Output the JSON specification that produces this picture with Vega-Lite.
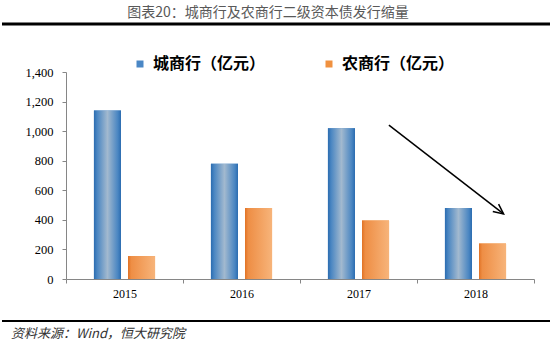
{
  "$schema": "https://vega.github.io/schema/vega-lite/v6.json",
  "padding": {"top": 5, "left": 0, "right": 0, "bottom": 0},
  "background": "white",
  "spacing": 21,
  "config": {"view": {"stroke": null}, "font": "Noto Sans CJK SC", "axis": {"labelFont": "Liberation Serif", "labelFontSize": 12, "labelColor": "#000000"}},
  "resolve": {"scale": {"color": "independent", "x": "independent", "y": "independent"}, "legend": {"color": "independent"}},
  "vconcat": [
    {
      "width": 550,
      "height": 10.5,
      "title": {"text": "图表20：城商行及农商行二级资本债发行缩量", "font": "Noto Sans CJK SC", "fontSize": 14, "fontWeight": "normal", "color": "#595959", "anchor": "middle", "offset": 3, "dx": -9},
      "data": {"values": [{"k": 1}]},
      "mark": {"type": "rule", "strokeWidth": 3, "color": "#000000"},
      "encoding": {"y": {"datum": 1, "type": "quantitative", "scale": {"domain": [0, 1]}, "axis": null}}
    },
    {
      "width": 532,
      "height": 207,
      "layer": [
        {
          "data": {"name": "bars"},
          "encoding": {
            "x": {"field": "year", "type": "nominal", "scale": {"paddingInner": 0, "paddingOuter": 0.2735, "align": 1},
                  "axis": {"title": null, "labelAngle": 0, "tickBand": "extent", "tickSize": 4, "labelPadding": 5, "labelFont": "Liberation Serif", "labelFontSize": 12, "labelColor": "#000000", "domainColor": "#868686", "domainDash": [0, 64, 10000], "tickColor": "#868686"}},
            "xOffset": {"field": "series", "type": "nominal", "scale": {"domain": ["城商行（亿元）", "农商行（亿元）"], "paddingInner": 0.206, "paddingOuter": 0.82}},
            "y": {"field": "value", "type": "quantitative", "scale": {"domain": [0, 1400]},
                  "axis": {"title": null, "offset": -64, "values": [0, 200, 400, 600, 800, 1000, 1200, 1400], "format": ",.0f", "grid": false, "tickSize": 4, "labelPadding": 9, "labelFont": "Liberation Serif", "labelFontSize": 12.5, "labelColor": "#000000", "domainColor": "#868686", "tickColor": "#868686"}}
          },
          "layer": [
            {
              "mark": {"type": "bar"},
              "encoding": {
                "color": {"field": "series", "type": "nominal", "scale": {"domain": ["城商行（亿元）", "农商行（亿元）"], "range": ["#4A87C5", "#F0913F"]},
                          "legend": {"orient": "none", "legendX": 130, "legendY": -16, "direction": "horizontal", "title": null, "labelFont": "Noto Sans CJK SC", "labelFontSize": 16, "labelFontWeight": "bold", "labelColor": "#000000", "symbolType": "square", "symbolSize": 49, "symbolStrokeWidth": 0, "labelOffset": 5, "columnPadding": 55, "padding": 0, "labelLimit": 300}}
              }
            },
            {
              "mark": {"type": "bar"},
              "encoding": {
                "fill": {
                  "condition": {"test": "datum.series === '城商行（亿元）'",
                    "value": {"gradient": "linear", "x1": 0, "y1": 0, "x2": 1, "y2": 0, "stops": [{"offset": 0, "color": "#2B6CB0"}, {"offset": 0.12, "color": "#4A86C2"}, {"offset": 0.5, "color": "#A2B9CF"}, {"offset": 0.88, "color": "#4A86C2"}, {"offset": 1, "color": "#2B6CB0"}]}},
                  "value": {"gradient": "linear", "x1": 0, "y1": 0, "x2": 1, "y2": 0, "stops": [{"offset": 0, "color": "#E07225"}, {"offset": 0.12, "color": "#EE8E45"}, {"offset": 1, "color": "#F7B47A"}]}
                }
              }
            }
          ]
        },
        {
          "data": {"name": "arrow"},
          "encoding": {
            "x": {"field": "x1", "type": "quantitative", "scale": {"domain": [-0.547, 4]}, "axis": null},
            "y": {"field": "value2", "type": "quantitative", "scale": {"domain": [0, 1400]}, "axis": null}
          },
          "layer": [
            {
              "mark": {"type": "rule", "color": "#000000", "strokeWidth": 1.5},
              "encoding": {
                "x": {"field": "x0", "type": "quantitative", "scale": {"domain": [-0.547, 4]}, "axis": null},
                "y": {"field": "value", "type": "quantitative", "scale": {"domain": [0, 1400]}, "axis": null},
                "x2": {"field": "x1"},
                "y2": {"field": "value2"}
              }
            },
            {
              "mark": {"type": "point", "shape": "M-1,-0.47L0,0L-1,0.47", "filled": false, "stroke": "#000000", "strokeWidth": 1.5, "size": 400, "angle": 38, "opacity": 1}
            }
          ]
        }
      ],
      "resolve": {"scale": {"x": "independent"}, "axis": {"y": "independent"}}
    },
    {
      "width": 550,
      "height": 1,
      "title": {"text": "资料来源：Wind，恒大研究院", "orient": "bottom", "anchor": "start", "font": "Noto Sans CJK SC", "fontSize": 13, "fontWeight": "normal", "fontStyle": "italic", "color": "#333333", "offset": 6, "dx": 10},
      "data": {"values": [{"k": 1}]},
      "mark": {"type": "rule", "strokeWidth": 2, "color": "#000000"},
      "encoding": {"y": {"datum": 1, "type": "quantitative", "scale": {"domain": [0, 1]}, "axis": null}}
    }
  ],
  "datasets": {
    "bars": [
      {"year": "2015", "series": "城商行（亿元）", "value": 1140},
      {"year": "2015", "series": "农商行（亿元）", "value": 155},
      {"year": "2016", "series": "城商行（亿元）", "value": 780},
      {"year": "2016", "series": "农商行（亿元）", "value": 480},
      {"year": "2017", "series": "城商行（亿元）", "value": 1020},
      {"year": "2017", "series": "农商行（亿元）", "value": 395},
      {"year": "2018", "series": "城商行（亿元）", "value": 480},
      {"year": "2018", "series": "农商行（亿元）", "value": 240}
    ],
    "arrow": [
      {"x0": 2.76, "value": 1041, "x1": 3.74, "value2": 440}
    ]
  }
}
